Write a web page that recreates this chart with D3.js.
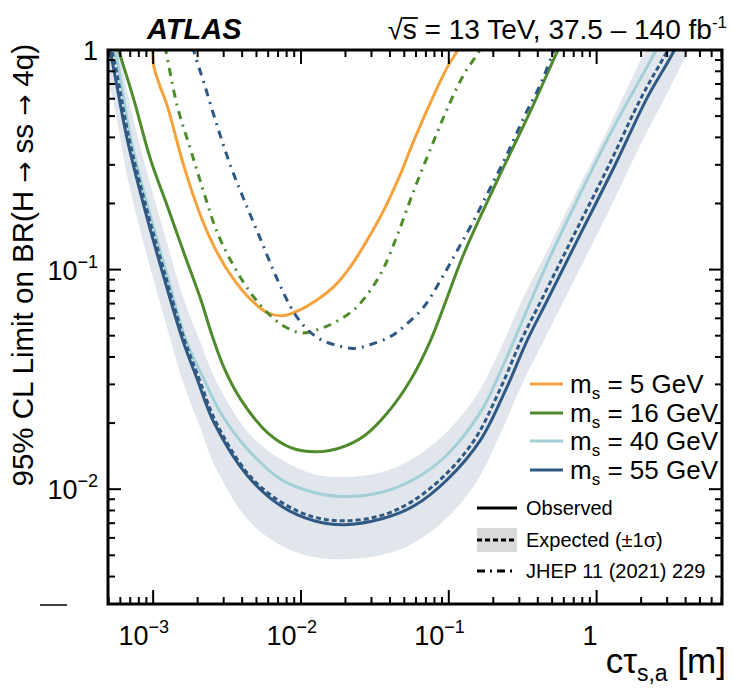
<!DOCTYPE html>
<html>
<head>
<meta charset="utf-8">
<script src="https://cdn.jsdelivr.net/npm/d3@7"></script>
<style>
  body { margin: 0; background: #fff; }
  text { font-family: "Liberation Sans", Arial, Helvetica, sans-serif; fill: #000; }
</style>
</head>
<body>
<div id="chart"></div>
<script>
// values: [c tau (m), 95% CL limit on BR]
const obs5 = [[9.9e-4,1.02],[1.012e-3,0.84],[1.094e-3,0.706],[1.25e-3,0.552],[1.616e-3,0.295],[2.1e-3,0.175],
  [2.72e-3,0.119],[3.52e-3,0.090],[4.57e-3,0.0731],[5.93e-3,0.0636],[7.69e-3,0.0618],[9.97e-3,0.0658],
  [0.01294,0.0731],[0.01676,0.0839],[0.0217,0.1035],[0.0282,0.137],[0.0365,0.1875],[0.0474,0.275],
  [0.0583,0.39],[0.0982,0.84],[0.1148,1.0],[0.13,1.25]];
const obs16 = [[5.2e-4,1.3],[5.84e-4,1.0],[7.41e-4,0.593],[9.62e-4,0.316],[1.25e-3,0.194],[1.616e-3,0.119],
  [2.1e-3,0.0731],[2.49e-3,0.0507],[3.05e-3,0.0351],[3.91e-3,0.02565],[5.93e-3,0.0181],[8.53e-3,0.01547],
  [0.0126,0.0148],[0.0186,0.01547],[0.0267,0.01747],[0.0385,0.0223],[0.0554,0.0316],[0.0757,0.048],
  [0.127,0.119],[0.214,0.2565],[0.36,0.5335],[0.548,1.0],[0.65,1.25]];
const obs40 = [[4.8e-4,1.38],[5.58e-4,0.966],[7.08e-4,0.390],[9.2e-4,0.194],[1.196e-3,0.1035],[1.66e-3,0.0481],
  [2.21e-3,0.0316],[2.86e-3,0.0223],[4.35e-3,0.0152],[7.3e-3,0.0111],[0.01227,0.00966],[0.0196,0.00927],
  [0.0347,0.00966],[0.0583,0.0111],[0.0982,0.01442],[0.165,0.0226],[0.2117,0.0316],[0.4667,0.108],
  [0.784,0.225],[1.318,0.45],[2.459,0.966],[3.2,1.37]];
const obs55 = [[4.5e-4,1.4],[5.15e-4,0.966],[6.69e-4,0.39],[8.67e-4,0.194],[1.125e-3,0.1035],[1.578e-3,0.0481],
  [1.99e-3,0.0316],[2.58e-3,0.0201],[4.35e-3,0.0115],[7.3e-3,0.0084],[0.01227,0.00718],[0.0196,0.00689],
  [0.0347,0.00731],[0.0583,0.0084],[0.0982,0.0111],[0.165,0.01687],[0.2435,0.0285],[0.3415,0.0481],
  [0.4667,0.0731],[0.784,0.147],[1.318,0.2947],[2.218,0.613],[3.27,0.966],[4.2,1.4]];
const exp55 = [[4.6e-4,1.35],[5.32e-4,0.966],[6.9e-4,0.39],[8.94e-4,0.194],[1.16e-3,0.1035],[1.626e-3,0.0481],
  [2.056e-3,0.0316],[2.67e-3,0.0201],[4.5e-3,0.0115],[7.53e-3,0.00864],[0.01227,0.00746],[0.0196,0.00718],
  [0.0347,0.00758],[0.0554,0.00873],[0.0912,0.01134],[0.150,0.01687],[0.222,0.0285],[0.311,0.0481],
  [0.425,0.0731],[0.714,0.147],[1.2,0.2947],[2.02,0.613],[2.95,0.966],[4.0,1.39]];
// [c tau, -1 sigma, +1 sigma]
const band55 = [[4.6e-4,0.82,2.0],[5.32e-4,0.6,1.45],[6.9e-4,0.24,0.585],[8.94e-4,0.12,0.29],[1.16e-3,0.064,0.155],
  [1.626e-3,0.0295,0.072],[2.056e-3,0.0195,0.048],[2.67e-3,0.0124,0.031],[4.5e-3,0.0071,0.0178],
  [7.53e-3,0.0055,0.0135],[0.01227,0.0049,0.0117],[0.0196,0.0048,0.01135],[0.0347,0.0050,0.0119],
  [0.0554,0.0056,0.0136],[0.0912,0.0071,0.0175],[0.150,0.0105,0.026],[0.222,0.0177,0.043],
  [0.311,0.0298,0.072],[0.425,0.0453,0.109],[0.714,0.091,0.22],[1.2,0.183,0.44],[2.02,0.38,0.92],
  [2.95,0.62,1.45],[4.5,1.1,2.4]];
const jhep16 = [[1.12e-3,1.3],[1.216e-3,1.0],[1.459e-3,0.552],[1.795e-3,0.351],[2.21e-3,0.223],[2.72e-3,0.147],
  [3.52e-3,0.1035],[4.57e-3,0.0783],[5.93e-3,0.0636],[7.69e-3,0.0552],[9.97e-3,0.0515],[0.01294,0.0533],
  [0.01676,0.0573],[0.0229,0.0658],[0.0297,0.0811],[0.03636,0.1021],[0.045,0.1443],[0.0583,0.231],
  [0.0757,0.3584],[0.0982,0.545],[0.127,0.778],[0.165,1.02],[0.19,1.3]];
const jhep55 = [[1.75e-3,1.3],[1.88e-3,1.0],[2.21e-3,0.706],[2.72e-3,0.448],[3.35e-3,0.295],[4.12e-3,0.208],
  [5.34e-3,0.137],[6.93e-3,0.090],[8.98e-3,0.0636],[0.01106,0.0533],[0.0136,0.048],[0.01766,0.0451],
  [0.0228,0.0437],[0.0297,0.0456],[0.0406,0.0497],[0.0499,0.0552],[0.0682,0.068],[0.0884,0.090],
  [0.1148,0.123],[0.1487,0.169],[0.193,0.239],[0.25,0.339],[0.324,0.497],[0.42,0.706],[0.515,1.0],[0.6,1.3]];

const massLabels = ["5", "16", "40", "55"];
const massColors = ["#f6a23c", "#4f8a2d", "#a3d0d6", "#2f5882"];
const xMajor = [1e-3, 1e-2, 1e-1, 1];
const xMajorExp = ["\u22123", "\u22122", "\u22121", ""];
const yMajor = [1e-2, 1e-1, 1];
const yMajorExp = ["\u22122", "\u22121", ""];

const W = 733, H = 689;
const L = 108, R = 722, T = 50, B = 604;

const svg = d3.select("#chart").append("svg")
    .attr("width", W)
    .attr("height", H);

const x = d3.scaleLog().domain([4.95e-4, 7.05]).range([L, R]);
const y = d3.scaleLog().domain([0.003, 1]).range([B, T]);

svg.append("clipPath").attr("id", "plot")
    .append("rect").attr("x", L).attr("y", T).attr("width", R - L).attr("height", B - T);

const plot = svg.append("g").attr("clip-path", "url(#plot)");

const curve = d3.curveCatmullRom.alpha(0.5);
const line = d3.line().x(d => x(d[0])).y(d => y(d[1])).curve(curve);
const area = d3.area().x(d => x(d[0])).y0(d => y(d[1])).y1(d => y(d[2])).curve(curve);

// expected +-1 sigma band
plot.append("path").attr("d", area(band55)).attr("fill", "#e1e6ed");

// curves
const solid = [obs5, obs16, obs40, obs55];
solid.forEach((s, i) => {
    plot.append("path").attr("d", line(s))
        .attr("fill", "none").attr("stroke", massColors[i]).attr("stroke-width", 3);
});
plot.append("path").attr("d", line(exp55))
    .attr("fill", "none").attr("stroke", massColors[3]).attr("stroke-width", 3)
    .attr("stroke-dasharray", "5,3");
plot.append("path").attr("d", line(jhep16))
    .attr("fill", "none").attr("stroke", massColors[1]).attr("stroke-width", 3)
    .attr("stroke-dasharray", "8,6,2,6");
plot.append("path").attr("d", line(jhep55))
    .attr("fill", "none").attr("stroke", massColors[3]).attr("stroke-width", 3)
    .attr("stroke-dasharray", "8,6,2,6");

// ticks
const ticks = svg.append("g").attr("stroke", "#000").attr("stroke-width", 2);
const xMinor = [], yMinor = [];
[1e-4, 1e-3, 1e-2, 1e-1, 1].forEach(dec => {
    for (let k = 2; k <= 9; k++) {
        const v = dec * k;
        if (v > x.domain()[0] && v < x.domain()[1]) xMinor.push(v);
    }
});
[1e-3, 1e-2, 1e-1].forEach(dec => {
    for (let k = 2; k <= 9; k++) {
        const v = dec * k;
        if (v >= y.domain()[0] && v < y.domain()[1]) yMinor.push(v);
    }
});
function xTick(v, len) {
    ticks.append("line").attr("x1", x(v)).attr("x2", x(v)).attr("y1", B).attr("y2", B - len);
    ticks.append("line").attr("x1", x(v)).attr("x2", x(v)).attr("y1", T).attr("y2", T + len);
}
function yTick(v, len) {
    ticks.append("line").attr("y1", y(v)).attr("y2", y(v)).attr("x1", L).attr("x2", L + len);
    ticks.append("line").attr("y1", y(v)).attr("y2", y(v)).attr("x1", R).attr("x2", R - len);
}
xMajor.forEach(v => xTick(v, 14));
xMinor.forEach(v => xTick(v, 7));
yMajor.forEach(v => yTick(v, 13));
yMinor.forEach(v => yTick(v, 7));

// frame
svg.append("rect").attr("x", L).attr("y", T).attr("width", R - L).attr("height", B - T)
    .attr("fill", "none").attr("stroke", "#000").attr("stroke-width", 3);

// tick labels
xMajor.forEach((v, i) => {
    const t = svg.append("text").attr("font-size", 27).attr("y", 645);
    if (xMajorExp[i]) {
        t.attr("x", x(v) + 16).attr("text-anchor", "end");
        t.append("tspan").text("10");
        t.append("tspan").attr("dy", -12).attr("font-size", 18).text(xMajorExp[i]);
    } else {
        t.attr("x", x(v) + 1).attr("text-anchor", "end").text("1");
    }
});
yMajor.forEach((v, i) => {
    const t = svg.append("text").attr("font-size", 27).attr("x", 98)
        .attr("y", y(v) + 10).attr("text-anchor", "end");
    if (yMajorExp[i]) {
        t.append("tspan").text("10");
        t.append("tspan").attr("dy", -12).attr("font-size", 18).text(yMajorExp[i]);
    } else {
        t.text("1");
    }
});

// axis titles
const xt = svg.append("text").attr("font-size", 35).attr("x", 726).attr("y", 673).attr("text-anchor", "end");
xt.append("tspan").text("c\u03c4");
xt.append("tspan").attr("dy", 8).attr("font-size", 23).text("s,a");
xt.append("tspan").attr("dy", -8).text(" [m]");

const yt = svg.append("text").attr("font-size", 29.5).attr("text-anchor", "end")
    .attr("transform", "translate(33,44) rotate(-90)");
["95% CL Limit on BR(H ", "\u2192", " ss ", "\u2192", " 4q)"].forEach(part => {
    const ts = yt.append("tspan").text(part);
    if (part === "\u2192") ts.attr("font-family", "DejaVu Sans").attr("font-size", 25);
});

svg.append("line").attr("x1", 40).attr("x2", 67).attr("y1", 605).attr("y2", 605)
    .attr("stroke", "#000").attr("stroke-width", 1.5);

// header
svg.append("text").attr("x", 147).attr("y", 39).attr("font-size", 29)
    .attr("font-weight", "bold").attr("font-style", "italic").text("ATLAS");

const head = svg.append("text").attr("x", 727).attr("y", 39).attr("font-size", 28).attr("text-anchor", "end");
head.append("tspan").text("\u221as = 13 TeV, 37.5 \u2013 140 fb");
head.append("tspan").attr("dy", -11).attr("font-size", 17).text("-1");
const hn = head.node();
const s0 = hn.getStartPositionOfChar(1), s1 = hn.getEndPositionOfChar(1);
svg.append("line").attr("x1", s0.x).attr("x2", s1.x + 1).attr("y1", 18).attr("y2", 18)
    .attr("stroke", "#000").attr("stroke-width", 1.8);

// legend: masses
const legY = [384, 413, 441, 470];
massLabels.forEach((m, i) => {
    svg.append("line").attr("x1", 530).attr("x2", 563).attr("y1", legY[i]).attr("y2", legY[i])
        .attr("stroke", massColors[i]).attr("stroke-width", 3);
    const t = svg.append("text").attr("x", 570).attr("y", legY[i] + 9).attr("font-size", 26);
    t.append("tspan").text("m");
    t.append("tspan").attr("dy", 6).attr("font-size", 17).text("s");
    t.append("tspan").attr("dy", -6).text(" = " + m + " GeV");
});

// legend: line styles
const styleLabels = ["Observed", "Expected (\u00b11\u03c3)", "JHEP 11 (2021) 229"];
const styleDash = [null, "5,3", "8,5,2,5"];
const styleY = [508, 540, 571];
svg.append("rect").attr("x", 477).attr("y", 528).attr("width", 40).attr("height", 24).attr("fill", "#d9d9d9");
styleLabels.forEach((s, i) => {
    svg.append("line").attr("x1", 477).attr("x2", 517).attr("y1", styleY[i]).attr("y2", styleY[i])
        .attr("stroke", "#000").attr("stroke-width", 3)
        .attr("stroke-dasharray", styleDash[i]);
    svg.append("text").attr("x", 526).attr("y", styleY[i] + 7).attr("font-size", 20).text(s);
});
</script>
</body>
</html>
